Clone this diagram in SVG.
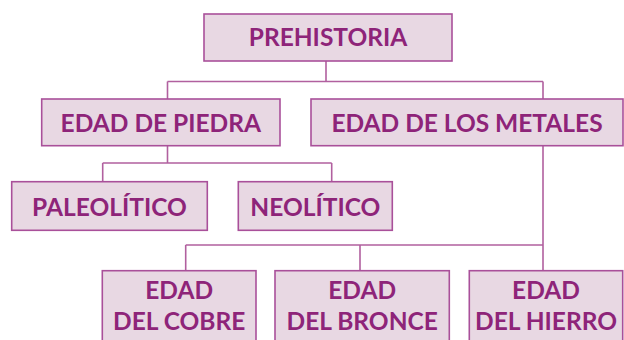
<svg xmlns="http://www.w3.org/2000/svg" width="624" height="340" viewBox="0 0 624 340">
<style>
.box{fill:#e8d8e3;stroke:#a9509a;stroke-width:1.6}
.t{font-family:Lato,"Open Sans",sans-serif;font-weight:700;font-size:24.5px;fill:#8e2479;text-anchor:middle}
.c{fill:none;stroke:#b1609f;stroke-width:1.6}
</style>
<rect width="624" height="340" fill="#ffffff"/>
<g id="connectors">
<path class="c" d="M326 61V81.5M167.5 81.5H543M167.5 81.5V99M543 81.5V99"/>
<path class="c" d="M167.5 146V163M102.7 163H331.7M102.7 163V181.7M331.7 163V181.7"/>
<path class="c" d="M543 146V245M185.7 245H543M185.7 245V271M360 245V271M543 245V271"/>
</g>
<g id="prehistoria"><rect class="box" x="204" y="14" width="248" height="47"/><text class="t" x="328" y="46">PREHISTORIA</text></g>
<g id="piedra"><rect class="box" x="41.7" y="99" width="238.3" height="46.7"/><text class="t" x="160.8" y="132.3">EDAD DE PIEDRA</text></g>
<g id="metales"><rect class="box" x="311" y="99" width="312" height="46.7"/><text class="t" x="467" y="132.3">EDAD DE LOS METALES</text></g>
<g id="paleolitico"><rect class="box" x="11.7" y="181.7" width="195.6" height="48.6"/><text class="t" x="109.5" y="215.7">PALEOLÍTICO</text></g>
<g id="neolitico"><rect class="box" x="238.3" y="181.7" width="154" height="48.6"/><text class="t" x="315.3" y="215.7">NEOLÍTICO</text></g>
<g id="cobre"><rect class="box" x="102.3" y="270.7" width="153.7" height="80"/><text class="t" x="179.2" y="299">EDAD</text><text class="t" x="179.2" y="330">DEL COBRE</text></g>
<g id="bronce"><rect class="box" x="275" y="270.7" width="174.3" height="80"/><text class="t" x="362.2" y="299">EDAD</text><text class="t" x="362.2" y="330">DEL BRONCE</text></g>
<g id="hierro"><rect class="box" x="469.3" y="270.7" width="153.4" height="80"/><text class="t" x="546" y="299">EDAD</text><text class="t" x="546" y="330">DEL HIERRO</text></g>
</svg>
